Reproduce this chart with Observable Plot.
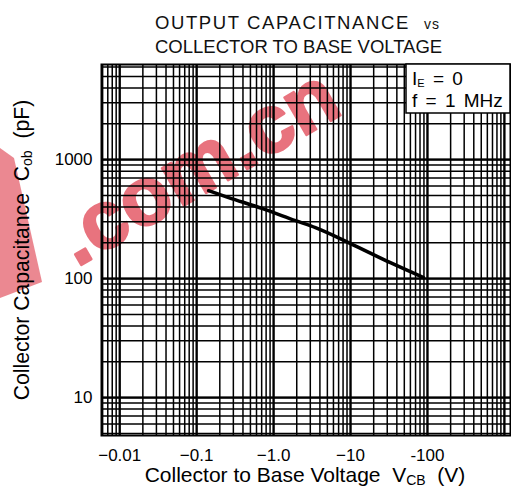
<!DOCTYPE html>
<html><head><meta charset="utf-8">
<script src="https://cdn.jsdelivr.net/npm/d3@7"></script>
<script src="https://cdn.jsdelivr.net/npm/@observablehq/plot@0.6"></script>
<style>body{margin:0;background:#fff} svg{display:block} text{white-space:pre}</style>
</head><body><div id="chart"></div>
<script>
const titleLine1 = "OUTPUT CAPACITNANCE";
const titleVs = "vs";
const titleLine2 = "COLLECTOR TO BASE VOLTAGE";
const xTicks = [-0.01, -0.1, -1, -10, -100];
const xTickLabels = ["\u22120.01", "\u22120.1", "\u22121.0", "\u221210", "-100"];
const yTicks = [10, 100, 1000];
const yTickLabels = ["10", "100", "1000"];
const vcb = [-0.143, -0.26, -0.72, -1.93, -3.5, -10, -33, -89];
const cob = [548, 480, 387, 307, 268, 197, 136, 102];
const xDomain = [-0.0058, -1200];
const yDomain = [4.8, 6300];
const legendLines = ["I|E| = 0", "f = 1 MHz"];
const watermark = ".com.cn";

const data = vcb.map((v, i) => ({v, c: cob[i]}));

function logGrid(lo, hi) {
  const out = [];
  for (let e = -4; e <= 4; e++) for (let m = 1; m <= 9; m++) {
    const v = m * Math.pow(10, e);
    if (v >= lo && v <= hi) out.push(v);
  }
  return out;
}
const xGrid = logGrid(Math.abs(xDomain[0]), Math.abs(xDomain[1])).map(d => -d);
const xMajor = xGrid.filter(d => Math.abs(Math.log10(-d) - Math.round(Math.log10(-d))) < 1e-9);
const yGrid = logGrid(yDomain[0], yDomain[1]);
const yMajor = yGrid.filter(d => Math.abs(Math.log10(d) - Math.round(Math.log10(d))) < 1e-9);

const pink = "#e8737e";

const chart = Plot.plot({
  width: 511, height: 492,
  marginTop: 64, marginBottom: 57, marginLeft: 101, marginRight: 1,
  style: {fontFamily: "'Liberation Sans', Arial, sans-serif", background: "white", color: "black"},
  x: {type: "log", domain: xDomain, axis: null},
  y: {type: "log", domain: yDomain, axis: null},
  marks: [
    Plot.text([watermark], {frameAnchor: "top-left", dx: 96, dy: 103, rotate: -30,
      text: d => d, fontSize: 82, fontWeight: "bold", fill: pink, stroke: pink, strokeWidth: 2.5,
      textAnchor: "middle", lineAnchor: "middle"}),
    Plot.ruleX(xGrid, {x: d => d, stroke: "black", strokeWidth: 1.5}),
    Plot.ruleY(yGrid, {y: d => d, stroke: "black", strokeWidth: 1.5}),
    Plot.ruleX(xMajor, {x: d => d, stroke: "black", strokeWidth: 2.2}),
    Plot.ruleY(yMajor, {y: d => d, stroke: "black", strokeWidth: 2.2}),
    Plot.frame({stroke: "black", strokeWidth: 2}),
    Plot.line(data, {x: "v", y: "c", stroke: "black", strokeWidth: 3.5, curve: "monotone-x"}),
    Plot.text(xTicks, {x: d => d, text: (d, i) => xTickLabels[i], frameAnchor: "bottom", dy: 20,
      lineAnchor: "middle", fontSize: 17, fill: "black"}),
    Plot.text(yTicks, {y: d => d, text: (d, i) => yTickLabels[i], frameAnchor: "left", dx: -9,
      textAnchor: "end", fontSize: 17, fill: "black"})
  ]
});
document.getElementById("chart").appendChild(chart);

const svg = d3.select(chart);
// watermark fragment at the left edge
svg.insert("polygon", ":first-child").attr("points", "0,148 14,158 42,282 0,298")
  .attr("fill", pink).attr("opacity", 0.85);

// Title
svg.append("text").attr("x", 155).attr("y", 29).attr("font-size", 18.5)
  .attr("text-anchor", "start").attr("letter-spacing", 1.6).attr("fill", "#111").text(titleLine1);
svg.append("text").attr("x", 424).attr("y", 29).attr("font-size", 14)
  .attr("text-anchor", "start").attr("letter-spacing", 1).attr("fill", "#111").text(titleVs);
svg.append("text").attr("x", 155).attr("y", 53).attr("font-size", 18.5)
  .attr("text-anchor", "start").attr("fill", "#111").text(titleLine2);

// Axis labels
const yl = svg.append("text").attr("transform", "translate(29,250) rotate(-90)")
  .attr("text-anchor", "middle").attr("font-size", 21.2).attr("fill", "black");
yl.append("tspan").text("Collector Capacitance  C");
yl.append("tspan").attr("font-size", 14).attr("dy", 3).text("ob");
yl.append("tspan").attr("dy", -3).text("  (pF)");

const xl = svg.append("text").attr("x", 305).attr("y", 482)
  .attr("text-anchor", "middle").attr("font-size", 21).attr("fill", "black");
xl.append("tspan").text("Collector to Base Voltage  V");
xl.append("tspan").attr("font-size", 14).attr("dy", 3).text("CB");
xl.append("tspan").attr("dy", -3).text("  (V)");

// Legend box
svg.append("rect").attr("x", 406).attr("y", 64).attr("width", 104).attr("height", 49)
  .attr("fill", "white").attr("stroke", "black").attr("stroke-width", 1.5);
const l1 = svg.append("text").attr("x", 412).attr("y", 85).attr("font-size", 19)
  .attr("text-anchor", "start").attr("word-spacing", 3).attr("fill", "black");
const parts = legendLines[0].split("|");
l1.append("tspan").text(parts[0]);
l1.append("tspan").attr("font-size", 11).attr("dy", 2).text(parts[1]);
l1.append("tspan").attr("dy", -2).text(parts[2]);
svg.append("text").attr("x", 412).attr("y", 107).attr("font-size", 19)
  .attr("text-anchor", "start").attr("word-spacing", 3).attr("fill", "black").text(legendLines[1]);
</script>
</body></html>
